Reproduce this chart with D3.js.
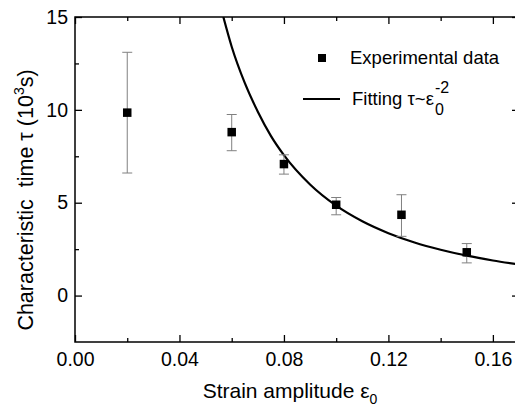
<!DOCTYPE html>
<html lang="en">
<head>
  <meta charset="UTF-8">
  <title>Characteristic time vs strain amplitude</title>
  <script src="https://cdn.jsdelivr.net/npm/d3@7"></script>
  <style>
    body { margin: 0; background: #fff; }
    svg { display: block; font-family: Arial, "Liberation Sans", sans-serif; }
  </style>
</head>
<body>
<svg></svg>
<script>
  const width = 515, height = 409
  const margin = {top: 17, right: -4, bottom: 67, left: 75}

  // experimental points (strain amplitude, tau in 10^3 s, error bar low/high)
  const strain = [0.02, 0.06, 0.08, 0.10, 0.125, 0.15]
  const tau = [9.85, 8.8, 7.08, 4.89, 4.35, 2.33]
  const errLow = [6.6, 7.8, 6.54, 4.35, 3.19, 1.76]
  const errHigh = [13.1, 9.75, 7.58, 5.28, 5.43, 2.8]

  // fitted curve tau ~ eps^-2
  const fitStrain = [0.0568, 0.06, 0.065, 0.07, 0.075, 0.08, 0.09, 0.10, 0.11, 0.12, 0.13, 0.14, 0.15, 0.16, 0.17]
  const fitTau = [15, 13.4, 11.45, 9.9, 8.6, 7.56, 5.98, 4.84, 4.0, 3.36, 2.86, 2.47, 2.15, 1.89, 1.67]

  const xTicks = [0, 0.04, 0.08, 0.12, 0.16]
  const xMinor = [0.02, 0.06, 0.10, 0.14]
  const yTicks = [0, 5, 10, 15]
  const yMinor = [2.5, 7.5, 12.5]

  const svg = d3.select('svg')
      .attr('width', width)
      .attr('height', height)
      .attr('viewBox', [0, 0, width, height])

  const x = d3.scaleLinear()
      .domain([0, 0.17])
      .range([margin.left, width - margin.right])

  const y = d3.scaleLinear()
      .domain([-2.5, 15])
      .range([height - margin.bottom, margin.top])

  const x0 = x(0), x1 = x(0.17), y0 = y(-2.5), y1 = y(15)

  // frame
  svg.append('rect')
      .attr('x', x0).attr('y', y1)
      .attr('width', x1 - x0).attr('height', y0 - y1)
      .attr('fill', 'none').attr('stroke', '#000').attr('stroke-width', 1.5)

  // bottom axis
  svg.append('g')
      .attr('transform', `translate(0,${y0})`)
      .call(d3.axisBottom(x).tickValues(xTicks).tickSize(-7).tickPadding(10).tickFormat(d3.format('.2f')))
      .call(g => g.select('.domain').remove())
  svg.append('g')
      .attr('transform', `translate(0,${y0})`)
      .call(d3.axisBottom(x).tickValues(xMinor).tickSize(-4).tickFormat(''))
      .call(g => g.select('.domain').remove())

  // top axis
  svg.append('g')
      .attr('transform', `translate(0,${y1})`)
      .call(d3.axisTop(x).tickValues(xTicks).tickSize(-7).tickFormat(''))
      .call(g => g.select('.domain').remove())
  svg.append('g')
      .attr('transform', `translate(0,${y1})`)
      .call(d3.axisTop(x).tickValues(xMinor).tickSize(-4).tickFormat(''))
      .call(g => g.select('.domain').remove())

  // left axis
  svg.append('g')
      .attr('transform', `translate(${x0},0)`)
      .call(d3.axisLeft(y).tickValues(yTicks).tickSize(-7).tickPadding(7))
      .call(g => g.select('.domain').remove())
  svg.append('g')
      .attr('transform', `translate(${x0},0)`)
      .call(d3.axisLeft(y).tickValues(yMinor).tickSize(-4).tickFormat(''))
      .call(g => g.select('.domain').remove())

  // right axis
  svg.append('g')
      .attr('transform', `translate(${x1},0)`)
      .call(d3.axisRight(y).tickValues(yTicks).tickSize(-7).tickFormat(''))
      .call(g => g.select('.domain').remove())
  svg.append('g')
      .attr('transform', `translate(${x1},0)`)
      .call(d3.axisRight(y).tickValues(yMinor).tickSize(-4).tickFormat(''))
      .call(g => g.select('.domain').remove())

  svg.selectAll('.tick line').attr('stroke', '#000').attr('stroke-width', 1.3)
  svg.selectAll('.tick text').attr('font-size', 19.5).attr('fill', '#000')
      .attr('font-family', 'Arial, "Liberation Sans", sans-serif')

  // fit curve, clipped to the plot area
  svg.append('clipPath').attr('id', 'clip')
      .append('rect').attr('x', x0).attr('y', y1).attr('width', x1 - x0).attr('height', y0 - y1)

  const fitData = fitStrain.map((e, i) => [e, fitTau[i]])
  svg.append('path')
      .attr('clip-path', 'url(#clip)')
      .attr('fill', 'none')
      .attr('stroke', '#000')
      .attr('stroke-width', 2.2)
      .attr('d', d3.line().curve(d3.curveMonotoneX).x(d => x(d[0])).y(d => y(d[1]))(fitData))

  // error bars
  const pts = strain.map((e, i) => ({e, t: tau[i], lo: errLow[i], hi: errHigh[i]}))
  const eb = svg.append('g').attr('stroke', '#808080').attr('stroke-width', 1)
  eb.selectAll('line.v').data(pts).join('line')
      .attr('x1', d => x(d.e)).attr('x2', d => x(d.e))
      .attr('y1', d => y(d.lo)).attr('y2', d => y(d.hi))
  eb.selectAll('line.top').data(pts).join('line')
      .attr('x1', d => x(d.e) - 5).attr('x2', d => x(d.e) + 5)
      .attr('y1', d => y(d.hi)).attr('y2', d => y(d.hi))
  eb.selectAll('line.bot').data(pts).join('line')
      .attr('x1', d => x(d.e) - 5).attr('x2', d => x(d.e) + 5)
      .attr('y1', d => y(d.lo)).attr('y2', d => y(d.lo))

  // square markers
  svg.append('g').selectAll('rect').data(pts).join('rect')
      .attr('x', d => x(d.e) - 4.25).attr('y', d => y(d.t) - 4.25)
      .attr('width', 8.5).attr('height', 8.5)
      .attr('fill', '#000')

  // legend
  const lg = svg.append('g').attr('font-size', 18.5).attr('fill', '#000')
  lg.append('rect').attr('x', 318).attr('y', 54).attr('width', 8).attr('height', 8).attr('fill', '#000')
  lg.append('text').attr('x', 350).attr('y', 64).text('Experimental data')
  lg.append('line').attr('x1', 303).attr('x2', 340).attr('y1', 99).attr('y2', 99)
      .attr('stroke', '#000').attr('stroke-width', 2.2)
  const ft = lg.append('text').attr('x', 352).attr('y', 105).text('Fitting τ~ε')
  const fx = 352 + ft.node().getComputedTextLength() + 1
  lg.append('text').attr('x', fx).attr('y', 115).attr('font-size', 16).text('0')
  lg.append('text').attr('x', fx).attr('y', 93).attr('font-size', 16).text('-2')

  // axis titles
  const xl = svg.append('text')
      .attr('x', 290).attr('y', 398)
      .attr('text-anchor', 'middle')
      .attr('font-size', 21)
  xl.append('tspan').text('Strain amplitude ε')
  xl.append('tspan').attr('dy', 6).attr('font-size', 14).text('0')

  const yl = svg.append('text')
      .attr('transform', `translate(33,200) rotate(-90)`)
      .attr('text-anchor', 'middle')
      .attr('font-size', 21.5)
      .attr('xml:space', 'preserve')
  yl.append('tspan').text('Characteristic  time τ (10')
  yl.append('tspan').attr('dy', -9).attr('font-size', 14).text('3')
  yl.append('tspan').attr('dy', 9).text('s)')
</script>
</body>
</html>
